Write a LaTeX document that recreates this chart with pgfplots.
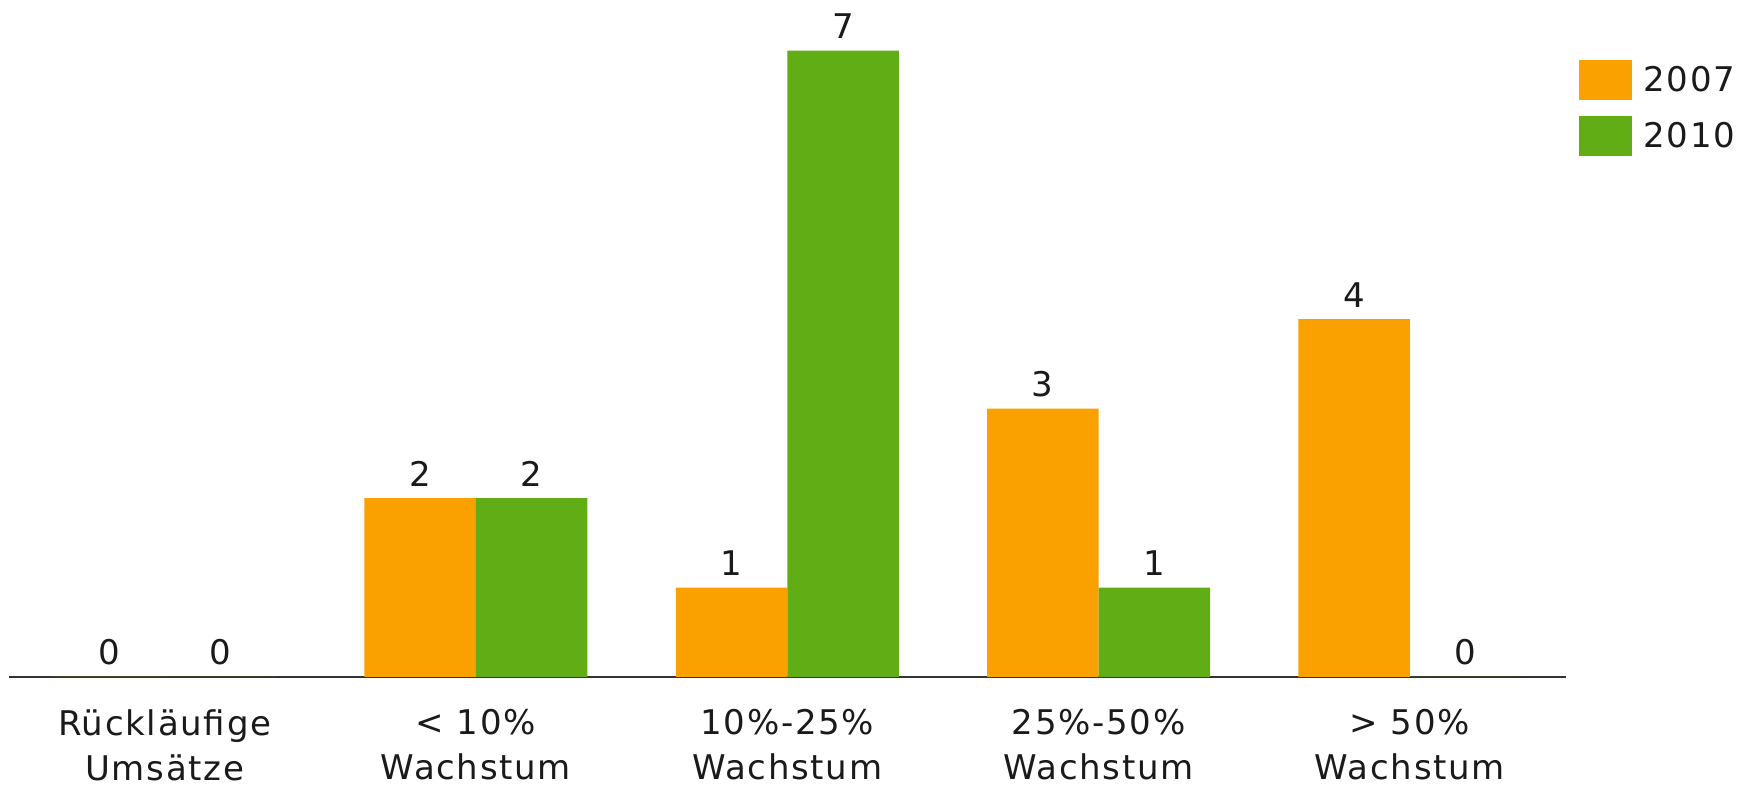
\documentclass[border=0pt]{standalone}
\usepackage{fontspec}
\setmainfont[LetterSpace=5]{DejaVu Sans}
\usepackage{pgfplots}
\pgfplotsset{compat=1.18}
\definecolor{orange07}{RGB}{250,161,0}
\definecolor{green10}{RGB}{97,173,22}
\definecolor{ink}{RGB}{26,26,26}
\newcommand{\chartfont}{\fontsize{17}{22.5}\selectfont}

\begin{document}
\begin{tikzpicture}
\begin{axis}[
  scale only axis,
  width=778.25pt, height=335.6pt,
  xmin=-0.5, xmax=4.5, ymin=0, ymax=7.5,
  axis x line*=bottom,
  hide y axis,
  axis line style={line width=1pt, color=black!80},
  xtick={0,1,2,3,4},
  xticklabels={{Rückläufige\\Umsätze},{<~10\%\\Wachstum},{10\%-25\%\\Wachstum},{25\%-50\%\\Wachstum},{>~50\%\\Wachstum}},
  major tick length=0pt,
  xticklabel style={align=center, anchor=north, inner sep=0pt, text depth=0pt, yshift=-16pt, font=\chartfont, text=ink},
  /pgf/number format/assume math mode=true,
  ybar=0pt, bar width=55.75pt,
  nodes near coords,
  nodes near coords style={font=\chartfont, text=ink, anchor=south, inner sep=0pt, yshift=5.7pt},
  legend cell align=left,
  legend style={draw=none, fill=none, at={(axis description cs:1.00867,0.9192)}, anchor=north west,
    inner sep=0pt, row sep=8pt, column sep=5.5pt, font=\chartfont, text=ink, nodes={inner sep=0pt}},
  legend image code/.code={\fill[#1] (0pt,-10pt) rectangle (26.5pt,10pt);},
  clip=false,
]
% sales growth classes, number of companies per survey year
\addplot[fill=orange07, draw=none] coordinates {(0,0) (1,2) (2,1) (3,3) (4,4)};
\addplot[fill=green10, draw=none] coordinates {(0,0) (1,2) (2,7) (3,1) (4,0)};
\legend{2007,2010}
\end{axis}
\pgfresetboundingbox
\path (-4.5pt,-54.5pt) rectangle (871.5pt,338.5pt);
\end{tikzpicture}
\end{document}
